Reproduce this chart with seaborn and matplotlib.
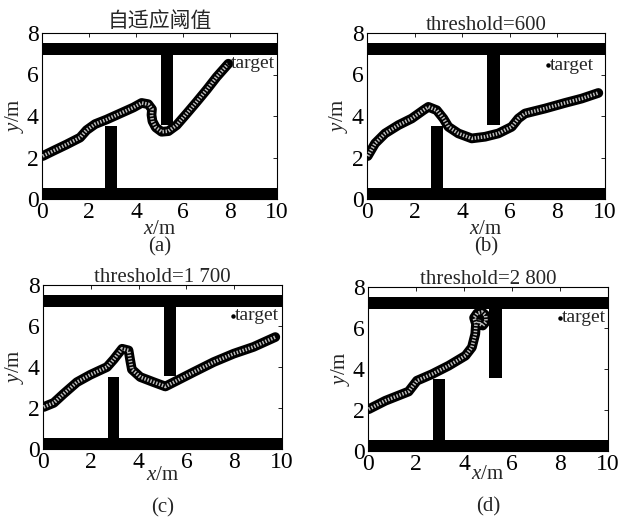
import matplotlib
matplotlib.use("Agg")
import matplotlib.pyplot as plt
import seaborn as sns
import pandas as pd
from matplotlib.patches import Rectangle

# ---------------- data ----------------
titles = ["自适应阈值", "threshold=600", "threshold=1 700", "threshold=2 800"]
panel_labels = ["(a)", "(b)", "(c)", "(d)"]
x_ticks = [0, 2, 4, 6, 8, 10]
y_ticks = [0, 2, 4, 6, 8]

path_a_x = [0.03, 0.48, 1.05, 1.62, 1.90, 2.26, 2.75, 3.32, 3.89, 4.24, 4.52, 4.68,
            4.66, 4.70, 4.84, 5.09, 5.38, 5.73, 6.16, 6.58, 7.01, 7.43, 7.93]
path_a_y = [2.07, 2.32, 2.63, 2.96, 3.32, 3.61, 3.83, 4.12, 4.41, 4.63, 4.57, 4.33,
            4.05, 3.75, 3.45, 3.24, 3.27, 3.56, 4.12, 4.68, 5.27, 5.88, 6.52]

path_b_x = [0.03, 0.34, 0.76, 1.32, 1.88, 2.37, 2.58, 2.93, 3.21, 3.42, 3.84, 4.40,
            4.96, 5.52, 6.08, 6.36, 6.64, 7.48, 8.32, 9.02, 9.72]
path_b_y = [2.07, 2.68, 3.16, 3.56, 3.88, 4.28, 4.44, 4.28, 3.88, 3.48, 3.16, 2.92,
            3.00, 3.16, 3.48, 3.88, 4.12, 4.36, 4.63, 4.84, 5.11]

path_c_x = [0.03, 0.45, 0.86, 1.42, 1.98, 2.68, 2.96, 3.31, 3.58, 3.65, 3.72, 4.07,
            4.63, 5.12, 5.61, 6.30, 7.14, 7.98, 8.81, 9.72]
path_c_y = [2.05, 2.25, 2.69, 3.26, 3.62, 4.00, 4.37, 4.89, 4.81, 4.32, 3.88, 3.51,
            3.26, 3.05, 3.34, 3.75, 4.24, 4.65, 4.98, 5.46]

path_d_x = [0.03, 0.72, 1.69, 2.04, 2.67, 3.36, 4.06, 4.33, 4.47, 4.50, 4.42, 4.55,
            4.75, 4.90, 4.92, 4.78, 4.62, 4.64]
path_d_y = [2.04, 2.45, 2.90, 3.43, 3.75, 4.16, 4.65, 5.06, 5.71, 6.20, 6.50, 6.72,
            6.78, 6.62, 6.32, 6.12, 6.22, 6.40]

target_x = [7.95, 7.60, 7.95, 8.00]
target_y = [6.55, 6.45, 6.50, 6.50]

# walls / obstacles: bottom wall, top wall, lower block, upper block
wall_x0 = [0.0, 0.0, 2.70, 5.05]
wall_x1 = [10.0, 10.0, 3.20, 5.57]
wall_y0 = [0.0, 6.95, 0.0, 3.57]
wall_y1 = [0.55, 7.50, 3.50, 7.00]

paths = [(path_a_x, path_a_y), (path_b_x, path_b_y),
         (path_c_x, path_c_y), (path_d_x, path_d_y)]

# ---------------- style ----------------
sns.set_theme(style="white")
plt.rcParams["font.family"] = ["Liberation Serif", "Noto Sans CJK SC", "DejaVu Sans"]
plt.rcParams["mathtext.fontset"] = "custom"
plt.rcParams["mathtext.it"] = "Liberation Serif:italic"
plt.rcParams["mathtext.rm"] = "Liberation Serif"
plt.rcParams["axes.edgecolor"] = "black"
plt.rcParams["axes.linewidth"] = 0.8

FS = 15
TFS = 17
W, H = 621, 522
fig = plt.figure(figsize=(W / 100, H / 100), dpi=100)
fig.patch.set_facecolor("white")

# pixel boxes: left, right, top, bottom
boxes = [(42, 277, 33, 199), (367, 605, 33, 199), (43, 282, 285, 449), (368, 608, 287, 451)]
xlabel_y = [-0.185, -0.185, -0.16, -0.145]
plabel_y = [-0.289, -0.289, -0.36, -0.341]
ylabel_x = [-0.118, -0.12, -0.118, -0.115]
title_pad = [4, 2, 2, 2]

for i, (l, r, t, b) in enumerate(boxes):
    ax = fig.add_axes([l / W, 1 - b / H, (r - l) / W, (b - t) / H])
    ax.set_facecolor("white")
    for x0, x1, y0, y1 in zip(wall_x0, wall_x1, wall_y0, wall_y1):
        ax.add_patch(Rectangle((x0, y0), x1 - x0, y1 - y0, facecolor="black",
                               edgecolor="black", lw=0, zorder=2))
    px, py = paths[i]
    df = pd.DataFrame({"x": px, "y": py})
    sns.lineplot(data=df, x="x", y="y", sort=False, estimator=None, ax=ax,
                 color="black", lw=7.0, solid_joinstyle="round",
                 solid_capstyle="round", zorder=3)
    sns.lineplot(data=df, x="x", y="y", sort=False, estimator=None, ax=ax,
                 color="#bdbdbd", lw=2.6, dashes=False, zorder=5,
                 linestyle=(0, (0.4, 0.45)))
    ax.plot([target_x[i]], [target_y[i]], marker="o", ms=2.2, color="black",
            ls="none", zorder=6)
    ax.text(target_x[i] + 0.08, target_y[i], "target", fontsize=14,
            ha="left", va="center", zorder=6, clip_on=True)

    ax.set_xlim(0, 10)
    ax.set_ylim(0, 8)
    ax.set_xticks(x_ticks)
    ax.set_yticks(y_ticks)
    ax.tick_params(direction="in", top=True, right=True, length=3, width=0.6,
                   labelsize=TFS, pad=2.5, colors="black")
    for s in ax.spines.values():
        s.set_visible(True)
        s.set_color("black")
    ax.set_xlabel(r"$x$/m", fontsize=FS)
    ax.xaxis.label.set_va("center")
    ax.xaxis.set_label_coords(0.5, xlabel_y[i])
    ax.set_ylabel(r"$y$/m", fontsize=FS)
    ax.yaxis.label.set_va("center")
    ax.yaxis.set_label_coords(ylabel_x[i], 0.5)
    if i == 0:
        ax.set_title(titles[i], fontsize=FS, pad=title_pad[i],
                     family=["Noto Sans CJK SC", "DejaVu Sans"])
    else:
        ax.set_title(titles[i], fontsize=FS, pad=title_pad[i])
    ax.text(0.5, plabel_y[i], panel_labels[i], transform=ax.transAxes,
            ha="center", va="center", fontsize=FS)

fig.savefig("out.png", dpi=100, facecolor="white")
